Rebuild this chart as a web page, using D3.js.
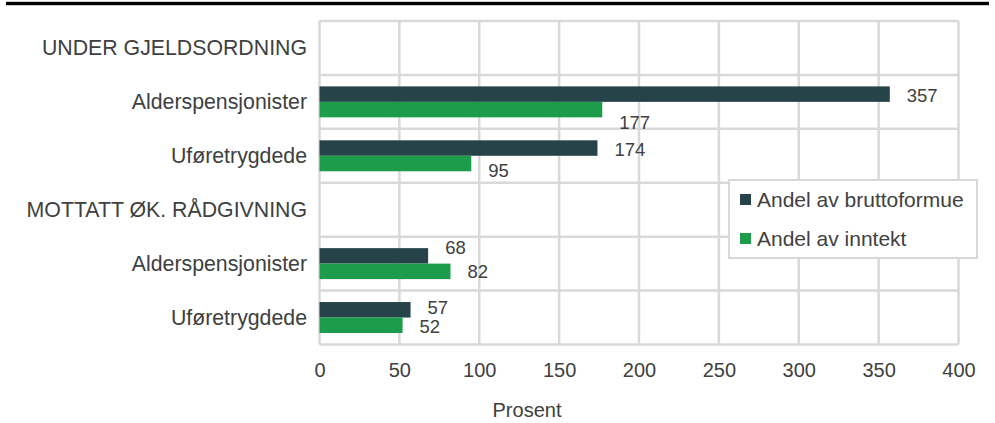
<!DOCTYPE html>
<html>
<head>
<meta charset="utf-8">
<script src="https://cdn.jsdelivr.net/npm/d3@7"></script>
<style>
  html, body { margin: 0; padding: 0; background: #fff; }
  svg { display: block; font-family: "Liberation Sans", Arial, sans-serif; }
</style>
</head>
<body>
<svg id="chart" width="995" height="423"></svg>
<script>
// ---------- DATA ----------
const categories = [
  "UNDER GJELDSORDNING",
  "Alderspensjonister",
  "Uføretrygdede",
  "MOTTATT ØK. RÅDGIVNING",
  "Alderspensjonister ",
  "Uføretrygdede "
];
const seriesNames = ["Andel av bruttoformue", "Andel av inntekt"];
const bruttoformue = [null, 357, 174, null, 68, 57];
const inntekt      = [null, 177, 95, null, 82, 52];
const xTicks = [0, 50, 100, 150, 200, 250, 300, 350, 400];
const axisTitle = "Prosent";

// ---------- STYLE / LAYOUT ----------
const colors = ["#27434a", "#1d9d4b"];
const textColor = "#404040";
const gridColor = "#d9d9d9";
const plot = { left: 319.5, right: 958.5, top: 21, bottom: 344.5 };
// vertical nudges of value labels (Excel collision placement), per series / category
const labelNudge = [
  [0, 1, 1, 0, -8, -2],
  [0, 13, 7, 0, 0, 1]
];

const svg = d3.select("#chart");

// top black rule
svg.append("rect").attr("x", 6).attr("y", 1.8).attr("width", 983).attr("height", 3.4).attr("fill", "#000");

const x = d3.scaleLinear().domain([0, 400]).range([plot.left, plot.right]);
const y = d3.scaleBand().domain(categories).range([plot.top, plot.bottom]).paddingInner(0).paddingOuter(0);
const ySub = d3.scaleBand().domain(seriesNames).range([0, y.bandwidth()]).paddingInner(0).paddingOuter(0.74);

// grid
const grid = svg.append("g");
grid.selectAll("line.v").data(xTicks).join("line")
  .attr("x1", d => x(d)).attr("x2", d => x(d))
  .attr("y1", plot.top).attr("y2", plot.bottom)
  .attr("stroke", gridColor).attr("stroke-width", 2.5);
const hLines = categories.map(c => y(c)).concat([plot.bottom]);
grid.selectAll("line.h").data(hLines).join("line")
  .attr("x1", plot.left).attr("x2", plot.right)
  .attr("y1", d => d).attr("y2", d => d)
  .attr("stroke", gridColor).attr("stroke-width", 2.5);

// bars
const seriesData = [bruttoformue, inntekt];
seriesData.forEach((vals, si) => {
  const g = svg.append("g");
  const rows = categories.map((c, i) => ({ c, v: vals[i], i })).filter(d => d.v != null);
  g.selectAll("rect").data(rows).join("rect")
    .attr("x", x(0))
    .attr("y", d => y(d.c) + ySub(seriesNames[si]))
    .attr("width", d => x(d.v) - x(0))
    .attr("height", ySub.bandwidth())
    .attr("fill", colors[si]);
  g.selectAll("text").data(rows).join("text")
    .attr("x", d => x(d.v) + 17)
    .attr("y", d => y(d.c) + ySub(seriesNames[si]) + ySub.bandwidth() / 2 + labelNudge[si][d.i])
    .attr("dy", "0.35em")
    .attr("font-size", 18.5)
    .attr("fill", textColor)
    .text(d => d.v);
});

// category labels
svg.append("g").selectAll("text").data(categories).join("text")
  .attr("x", 307)
  .attr("y", d => y(d) + y.bandwidth() / 2)
  .attr("dy", "0.35em")
  .attr("text-anchor", "end")
  .attr("font-size", 21.3)
  .attr("fill", textColor)
  .text(d => d.trim());

// x axis tick labels
const xAxis = d3.axisBottom(x).tickValues(xTicks).tickSize(0).tickPadding(0);
const ax = svg.append("g").attr("transform", `translate(0, ${plot.bottom + 18})`).call(xAxis);
ax.select(".domain").remove();
ax.selectAll("text").attr("font-size", 20).attr("fill", textColor)
  .attr("font-family", "Liberation Sans, Arial, sans-serif");

// axis title
svg.append("text").attr("x", 527).attr("y", 417)
  .attr("text-anchor", "middle").attr("font-size", 20).attr("fill", textColor)
  .text(axisTitle);

// legend
const lg = svg.append("g");
lg.append("rect").attr("x", 729).attr("y", 180).attr("width", 248).attr("height", 78)
  .attr("fill", "#fff").attr("stroke", gridColor).attr("stroke-width", 2);
seriesNames.forEach((s, i) => {
  const cy = 199.5 + i * 39;
  lg.append("rect").attr("x", 740).attr("y", cy - 5.5).attr("width", 11).attr("height", 11).attr("fill", colors[i]);
  lg.append("text").attr("x", 757).attr("y", cy).attr("dy", "0.35em")
    .attr("font-size", 21).attr("fill", textColor).text(s);
});
</script>
</body>
</html>
